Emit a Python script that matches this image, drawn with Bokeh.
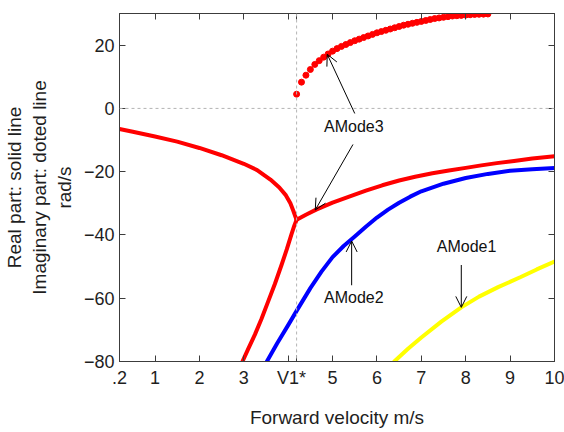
from bokeh.plotting import figure
from bokeh.models import (Range1d, FixedTicker, LinearAxis, Span, Arrow, OpenHead,
                          Label, CustomJSTickFormatter)
from bokeh.embed import file_html
from bokeh.resources import INLINE

# ---------------- data ----------------
V1 = 4.19  # critical velocity V1*

x_ticks = [0.2, 1, 2, 3, 4, V1, 5, 6, 7, 8, 9, 10]
x_tick_labels = [".2", "1", "2", "3", "", "V1*  ", "5", "6", "7", "8", "9", "10"]
y_ticks = [-80, -60, -40, -20, 0, 20]

# AMode3 real part, upper real branch before V1*
m3_re_a_x = [0.2, 0.5, 1.0, 1.5, 2.0, 2.5, 3.0, 3.3, 3.6, 3.8, 3.95, 4.05, 4.12, 4.17, 4.19]
m3_re_a_y = [-6.5, -7.4, -8.9, -10.5, -12.5, -14.8, -17.5, -19.5, -22.5, -25.0, -27.5,
             -30.0, -32.5, -34.5, -35.2]
# AMode3 real part, lower real branch before V1*
m3_re_b_x = [2.97, 3.1, 3.25, 3.4, 3.55, 3.7, 3.85, 3.97, 4.07, 4.14, 4.19]
m3_re_b_y = [-80.0, -76.0, -71.5, -66.5, -61.0, -55.5, -49.5, -44.5, -40.0, -37.0, -35.2]
# AMode3 real part of complex pair after V1*
m3_re_c_x = [4.19, 4.4, 4.63, 5.0, 5.39, 5.75, 6.12, 6.5, 6.86, 7.25, 7.62, 8.0, 8.35,
             8.7, 9.09, 9.5, 10.0]
m3_re_c_y = [-35.2, -33.6, -32.0, -29.8, -27.8, -26.0, -24.3, -22.8, -21.6, -20.5, -19.6,
             -18.8, -18.0, -17.3, -16.6, -15.8, -15.1]
# AMode3 imaginary part (dotted markers)
m3_im_x = [4.19, 4.3, 4.4, 4.5, 4.6, 4.7, 4.8, 4.9, 5.0, 5.1, 5.2, 5.3, 5.4, 5.5,
           5.6, 5.7, 5.8, 5.9, 6.0, 6.1, 6.2, 6.3, 6.4, 6.5, 6.6, 6.7, 6.8, 6.9,
           7.0, 7.1, 7.2, 7.3, 7.4, 7.5, 7.6, 7.7, 7.8, 7.9, 8.0, 8.1, 8.2, 8.3,
           8.4, 8.5]
m3_im_y = [4.5, 8.3, 10.5, 12.3, 13.9, 15.1, 16.2, 17.2, 18.1, 18.9, 19.6, 20.2,
           20.8, 21.4, 21.9, 22.4, 22.9, 23.4, 23.9, 24.3, 24.7, 25.1, 25.5, 25.9,
           26.3, 26.6, 26.9, 27.2, 27.5, 27.8, 28.1, 28.4, 28.6, 28.8, 29.0, 29.2,
           29.3, 29.4, 29.5, 29.6, 29.7, 29.75, 29.8, 29.85]
# AMode2 (blue)
m2_x = [3.52, 3.75, 4.0, 4.19, 4.5, 4.75, 5.0, 5.25, 5.5, 5.75, 6.0, 6.25, 6.5, 6.75,
        7.0, 7.5, 8.0, 8.5, 9.0, 9.5, 10.0]
m2_y = [-80.0, -74.3, -68.5, -64.0, -56.8, -51.6, -47.0, -43.5, -40.5, -37.4, -34.5,
        -32.0, -29.8, -27.9, -26.2, -23.8, -22.0, -20.7, -19.7, -19.2, -18.8]
# AMode1 (yellow)
m1_x = [6.39, 6.7, 7.0, 7.45, 7.9, 8.3, 8.73, 9.24, 9.6, 10.0]
m1_y = [-80.0, -76.0, -72.4, -67.4, -62.9, -59.5, -56.5, -53.3, -50.9, -48.4]

# annotations
ann_text = ["AMode3", "AMode2", "AMode1"]
ann_text_x = [5.48, 5.48, 8.02]
ann_text_y = [-5.6, -59.8, -43.6]
arr_x0 = [5.5, 5.46, 5.43, 7.9]
arr_y0 = [-1.6, -11.4, -55.9, -49.5]
arr_x1 = [4.88, 4.61, 5.43, 7.9]
arr_y1 = [17.1, -32.1, -41.9, -62.9]

# ---------------- figure ----------------
FONT = "Liberation Sans"
AX = "#3c3c3c"

p = figure(width=564, height=432, output_backend="svg", toolbar_location=None,
           x_range=Range1d(0.2, 10), y_range=Range1d(-80, 30),
           min_border_left=114, min_border_right=10, min_border_top=13,
           min_border_bottom=71)
p.grid.visible = False
p.outline_line_color = AX
p.background_fill_color = "white"
p.border_fill_color = "white"

xt = FixedTicker(ticks=x_ticks, minor_ticks=[])
yt = FixedTicker(ticks=y_ticks, minor_ticks=[])
p.xaxis.ticker = xt
p.yaxis.ticker = yt
p.xaxis.major_label_overrides = {t: l for t, l in zip(x_ticks, x_tick_labels)}

for ax in (p.xaxis[0], p.yaxis[0]):
    ax.major_tick_in = 6
    ax.major_tick_out = 0
    ax.minor_tick_in = 0
    ax.minor_tick_out = 0
    ax.axis_line_color = AX
    ax.major_tick_line_color = AX
    ax.major_label_text_font = FONT
    ax.major_label_text_font_size = "18px"
    ax.major_label_text_color = "#1e1e1e"
    ax.axis_label_text_font = FONT
    ax.axis_label_text_font_size = "19px"
    ax.axis_label_text_font_style = "normal"
    ax.axis_label_text_color = "#1e1e1e"

p.xaxis.major_label_standoff = 6
p.yaxis.major_label_standoff = 5
p.xaxis.axis_label = "Forward velocity m/s"
p.xaxis.axis_label_standoff = 16
p.yaxis.axis_label = "Real part: solid line\nImaginary part: doted line\nrad/s"
p.yaxis.axis_label_standoff = 6

empty = CustomJSTickFormatter(code="return ''")
top = LinearAxis(ticker=xt, formatter=empty, major_tick_in=6, major_tick_out=0,
                 minor_tick_in=0, minor_tick_out=0, axis_line_color=AX,
                 major_tick_line_color=AX, major_label_standoff=0)
right = LinearAxis(ticker=yt, formatter=empty, major_tick_in=6, major_tick_out=0,
                   minor_tick_in=0, minor_tick_out=0, axis_line_color=AX,
                   major_tick_line_color=AX, major_label_standoff=0)
p.add_layout(top, "above")
p.add_layout(right, "right")

# reference lines
p.add_layout(Span(location=0, dimension="width", line_color="#b4b4b4",
                  line_dash="3 3", line_width=1))
p.add_layout(Span(location=V1, dimension="height", line_color="#b4b4b4",
                  line_dash="3 3", line_width=1))

# curves
kw = dict(line_width=4, line_join="round", line_cap="round")
p.line(m1_x, m1_y, line_color="#ffff00", **kw)
p.line(m2_x, m2_y, line_color="#0000ff", **kw)
p.line(m3_re_a_x, m3_re_a_y, line_color="#ff0000", **kw)
p.line(m3_re_b_x, m3_re_b_y, line_color="#ff0000", **kw)
p.line(m3_re_c_x, m3_re_c_y, line_color="#ff0000", **kw)
p.scatter(m3_im_x, m3_im_y, marker="circle", size=6, fill_color="#ff0000",
          line_color="#ff0000")

# annotations
for x0, y0, x1, y1 in zip(arr_x0, arr_y0, arr_x1, arr_y1):
    p.add_layout(Arrow(end=OpenHead(size=11, line_width=1, line_color="black"),
                       x_start=x0, y_start=y0, x_end=x1, y_end=y1,
                       line_width=1, line_color="black"))
for t, x, y in zip(ann_text, ann_text_x, ann_text_y):
    p.add_layout(Label(x=x, y=y, text=t, text_align="center", text_baseline="middle",
                       text_font=FONT, text_font_size="16px", text_color="#111111"))

open("out.html", "w").write(file_html(p, INLINE))
